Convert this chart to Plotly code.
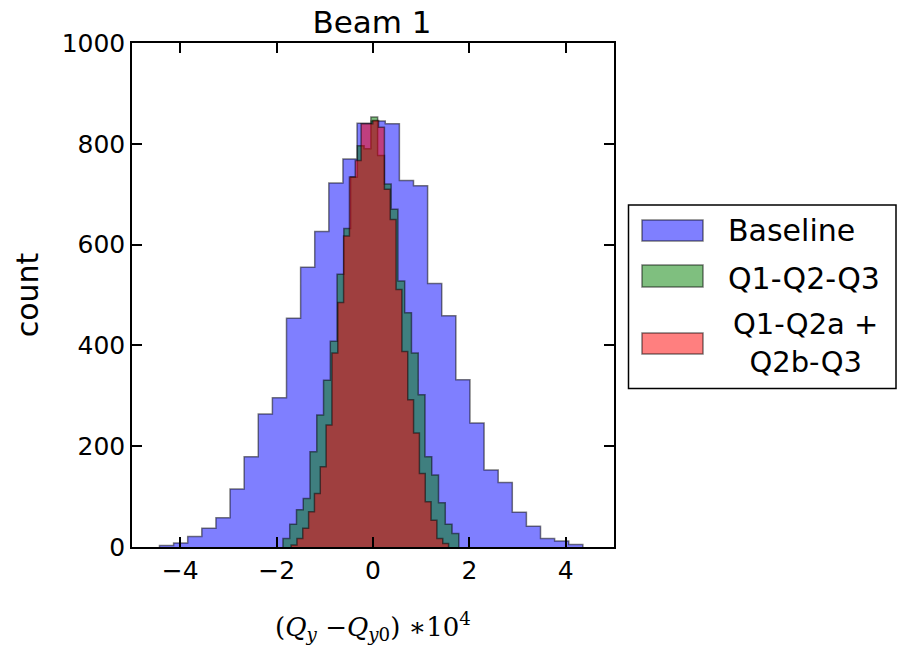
import numpy as np
import plotly.graph_objects as go

# ---------------- data ----------------
baseline_range = (-4.43, 4.354)   # histogram range of the Baseline series
baseline_counts = [3, 8, 21, 37, 58, 115, 179, 264, 296, 454,
                   555, 626, 722, 770, 841, 845, 840, 727, 717, 523,
                   459, 332, 246, 153, 128, 69, 41, 17, 12, 5]

q123_range = (-1.868, 1.780)
q123_counts = [17, 45, 74, 96, 189, 262, 331, 408, 541, 632,
               734, 796, 790, 853, 777, 720, 670, 528, 465, 385,
               302, 179, 143, 88, 45, 27]

q12ab_range = (-1.699, 1.568)
q12ab_counts = [4, 17, 37, 70, 106, 159, 242, 385, 485, 617,
                734, 767, 840, 840, 846, 833, 710, 650, 511, 388,
                292, 226, 146, 90, 53, 17, 7]

series_names = ["Baseline", "Q1-Q2-Q3", "Q1-Q2a +<br>Q2b-Q3"]
x_ticks = [-4, -2, 0, 2, 4]
y_ticks = [0, 200, 400, 600, 800, 1000]

# ---------------- styling ----------------
fills = ["rgba(0,0,255,0.5)", "rgba(0,128,0,0.5)", "rgba(255,0,0,0.5)"]
edge = "rgba(0,0,0,0.5)"
FONT = "DejaVu Sans"

W, H = 903, 653
ML, MR, MT, MB = 132, 289, 43, 106
PW, PH = W - ML - MR, H - MT - MB


def step_outline(rng, counts):
    edges = np.linspace(rng[0], rng[1], len(counts) + 1)
    xs = [edges[0]] + list(edges)
    ys = [0] + list(counts) + [0]
    return xs, ys


fig = go.Figure()
for name, rng, cnt, fc in zip(series_names,
                              [baseline_range, q123_range, q12ab_range],
                              [baseline_counts, q123_counts, q12ab_counts],
                              fills):
    xs, ys = step_outline(rng, cnt)
    fig.add_trace(go.Scatter(
        x=xs, y=ys, mode="lines", line=dict(shape="hv", color=edge, width=1.5),
        fill="toself", fillcolor=fc, name=name.replace("<br>", " "),
        showlegend=False, hoverinfo="skip"))


# ---------------- manual legend (matplotlib style) ----------------
def px_x(px):
    return (px - ML) / PW


def px_y(py):
    return (H - MB - py) / PH


shapes = [dict(type="rect", xref="paper", yref="paper",
               x0=px_x(628.5), x1=px_x(896), y0=px_y(388.5), y1=px_y(205),
               line=dict(color="black", width=1.5), fillcolor="white", layer="above")]
annotations = []
patch_rows = [(220, 241, 230), (265, 287, 278), (333, 354, 343)]
for (y0, y1, yc), fc, name in zip(patch_rows, fills, series_names):
    shapes.append(dict(type="rect", xref="paper", yref="paper",
                       x0=px_x(642), x1=px_x(703), y0=px_y(y1), y1=px_y(y0),
                       line=dict(color=edge, width=1.5), fillcolor=fc, layer="above"))
    if "<br>" in name:
        annotations.append(dict(xref="paper", yref="paper", x=px_x(805), y=px_y(yc),
                                text=name, showarrow=False, xanchor="center",
                                yanchor="middle", align="center",
                                font=dict(family=FONT, size=29, color="black")))
    else:
        annotations.append(dict(xref="paper", yref="paper", x=px_x(726), y=px_y(yc),
                                text=name, showarrow=False, xanchor="left",
                                yanchor="middle", align="left",
                                font=dict(family=FONT, size=30, color="black")))

axis_common = dict(showline=True, linecolor="black", linewidth=1.5, mirror="ticks",
                   ticks="inside", ticklen=10, tickwidth=1.5, tickcolor="black",
                   showgrid=False, zeroline=False,
                   tickfont=dict(family=FONT, size=25, color="black"))

fig.update_layout(
    width=W, height=H,
    margin=dict(l=ML, r=MR, t=MT, b=MB),
    paper_bgcolor="white", plot_bgcolor="white",
    title=dict(text="Beam 1", x=px_x(372) * PW / W + ML / W, xanchor="center",
               y=1 - 22 / H, yanchor="middle", yref="container",
               font=dict(family=FONT, size=31, color="black")),
    xaxis=dict(range=[-5, 5], tickvals=x_ticks, **axis_common,
               title=dict(text="(<i>Q</i><sub><i>y</i></sub> −<i>Q</i><sub><i>y</i>0</sub>) ∗10<sup>4</sup>",
                          standoff=34,
                          font=dict(family="DejaVu Serif", size=26, color="black"))),
    yaxis=dict(range=[0, 1000], tickvals=y_ticks, **axis_common,
               title=dict(text="count", standoff=14,
                          font=dict(family=FONT, size=30, color="black"))),
    shapes=shapes, annotations=annotations,
)

fig.write_html("out.html")
